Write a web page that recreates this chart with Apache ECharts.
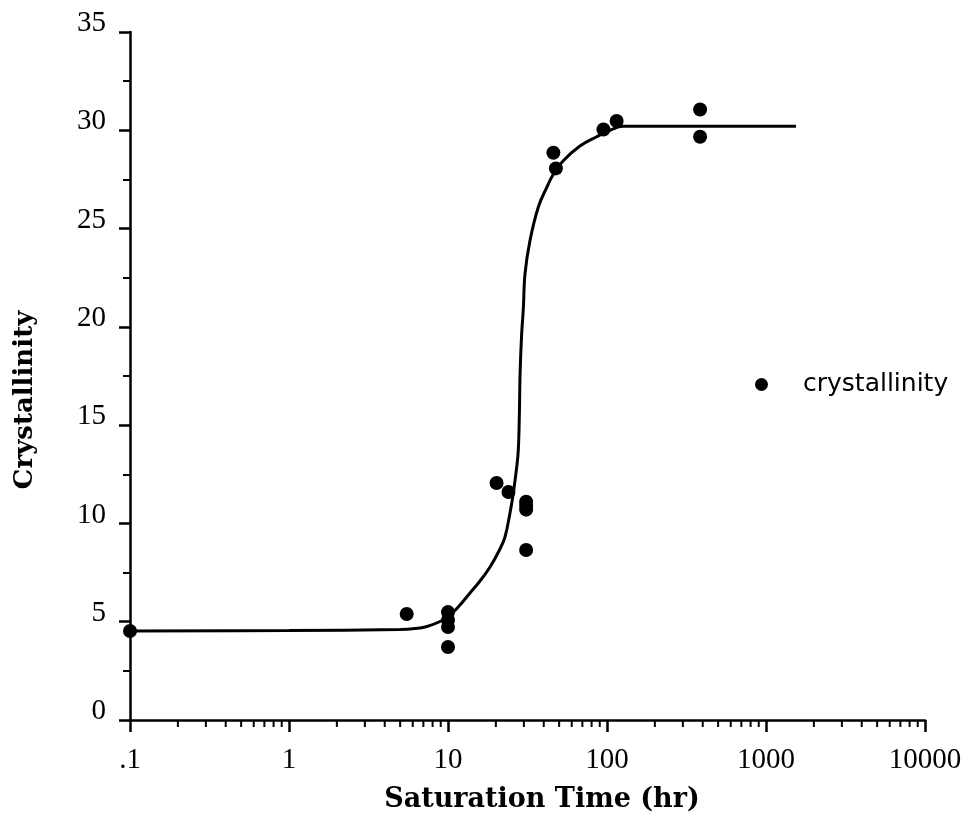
<!DOCTYPE html>
<html>
<head>
<meta charset="utf-8">
<title>Crystallinity vs Saturation Time</title>
<script src="https://cdn.jsdelivr.net/npm/echarts@6/dist/echarts.min.js"></script>
<style>
  html, body { margin: 0; padding: 0; background: #fff; }
  #chart { width: 972px; height: 829px; }
</style>
</head>
<body>
<div id="chart"></div>
<script>
// Measured crystallinity at each saturation time (hr, %)
const sampleTimes = [0.1, 5.5, 10, 10, 10, 10, 20.2, 24, 31, 31, 31, 31, 46, 47.7, 95, 115, 385, 385];
const sampleCrystallinity = [4.53, 5.39, 5.49, 5.09, 4.73, 3.71, 12.06, 11.6, 11.1, 10.9, 10.7, 8.65, 28.86, 28.06, 30.04, 30.47, 31.06, 29.67];

// Fitted sigmoid trend, traced as (time, crystallinity) pairs
const fitTimes = [0.1, 1, 4.99, 6.2, 7.38, 8.91, 10.29, 11.9, 13.75, 15.9, 18.38, 21.23, 22.83, 24.54, 25.75, 27.05, 27.68, 28.1, 28.4, 29.0, 29.8, 30.5, 32.8, 37.0, 41.8, 45.9, 53.1, 67.6, 86.1, 104.4, 126.7, 1545];
const fitCrystallinity = [4.53, 4.55, 4.6, 4.65, 4.76, 5.01, 5.34, 5.85, 6.46, 7.07, 7.78, 8.7, 9.31, 10.53, 11.55, 12.87, 13.73, 15.5, 17.6, 19.5, 21.0, 22.7, 24.4, 26.1, 27.1, 27.75, 28.45, 29.2, 29.67, 30.0, 30.2, 30.2];

// Axis tick labels and minor log ticks
const xTickLabels = ['.1', '1', '10', '100', '1000', '10000'];
const xMinorTicks = [0.2, 0.3, 0.4, 0.5, 0.6, 0.7, 0.8, 0.9,
                     2, 3, 4, 5, 6, 7, 8, 9,
                     20, 30, 40, 50, 60, 70, 80, 90,
                     200, 300, 400, 500, 600, 700, 800, 900,
                     2000, 3000, 4000, 5000, 6000, 7000, 8000, 9000];
const yTickLabels = ['0', '5', '10', '15', '20', '25', '30', '35'];

const chart = echarts.init(document.getElementById('chart'), null, { renderer: 'canvas' });

const tickFont = 'Liberation Serif';
const axisLine = { show: true, lineStyle: { color: '#000', width: 2.5 } };

chart.setOption({
  animation: false,
  backgroundColor: '#fff',
  grid: { left: 130, right: 47, top: 32, bottom: 109, containLabel: false },
  legend: {
    data: ['crystallinity'],
    left: 755,
    top: 372,
    padding: 0,
    itemWidth: 13,
    itemHeight: 13,
    icon: 'circle',
    itemStyle: { color: '#000', opacity: 1 },
    textStyle: { fontFamily: 'DejaVu Sans', fontSize: 25, color: '#000', padding: [0, 0, 0, 30] }
  },
  xAxis: {
    type: 'log',
    logBase: 10,
    min: 0.1,
    max: 10000,
    axisLine: axisLine,
    axisTick: { show: true, inside: false, length: 12, lineStyle: { color: '#000', width: 2.5 } },
    splitLine: { show: false },
    axisLabel: {
      margin: 26,
      fontFamily: tickFont,
      fontSize: 29,
      color: '#000',
      formatter: function (value, index) { return xTickLabels[index]; }
    }
  },
  yAxis: {
    type: 'value',
    min: 0,
    max: 35,
    interval: 5,
    axisLine: axisLine,
    axisTick: { show: true, inside: false, length: 11, lineStyle: { color: '#000', width: 2.5 } },
    minorTick: { show: true, splitNumber: 2, length: 7, lineStyle: { color: '#000', width: 2 } },
    splitLine: { show: false },
    axisLabel: {
      margin: 24,
      fontFamily: tickFont,
      fontSize: 29,
      color: '#000',
      verticalAlign: 'bottom',
      lineHeight: 17,
      formatter: function (value, index) { return yTickLabels[index]; }
    }
  },
  graphic: [
    {
      type: 'text',
      x: 542, y: 800,
      style: {
        text: 'Saturation Time (hr)',
        font: 'bold 27px "DejaVu Serif"',
        fill: '#000',
        align: 'center',
        verticalAlign: 'middle'
      }
    },
    {
      type: 'text',
      x: 25, y: 400,
      rotation: Math.PI / 2,
      style: {
        text: 'Crystallinity',
        font: 'bold 26px "DejaVu Serif"',
        fill: '#000',
        align: 'center',
        verticalAlign: 'middle'
      }
    }
  ],
  series: [
    {
      // minor decade ticks under the log time axis
      type: 'custom',
      silent: true,
      clip: false,
      data: xMinorTicks.map(function (v) { return [v, 0]; }),
      encode: { x: 0, y: 1 },
      renderItem: function (params, api) {
        const p = api.coord([api.value(0), 0]);
        return {
          type: 'line',
          shape: { x1: p[0], y1: p[1], x2: p[0], y2: p[1] + 7 },
          style: { stroke: '#000', lineWidth: 2 }
        };
      },
      z: 1
    },
    {
      name: 'fit',
      type: 'line',
      data: fitTimes.map(function (t, i) { return [t, fitCrystallinity[i]]; }),
      showSymbol: false,
      smooth: 0.4,
      lineStyle: { color: '#000', width: 3 },
      silent: true,
      z: 2
    },
    {
      name: 'crystallinity',
      type: 'scatter',
      data: sampleTimes.map(function (t, i) { return [t, sampleCrystallinity[i]]; }),
      symbol: 'circle',
      symbolSize: 14,
      itemStyle: { color: '#000', opacity: 1 },
      z: 3
    }
  ]
});
</script>
</body>
</html>
